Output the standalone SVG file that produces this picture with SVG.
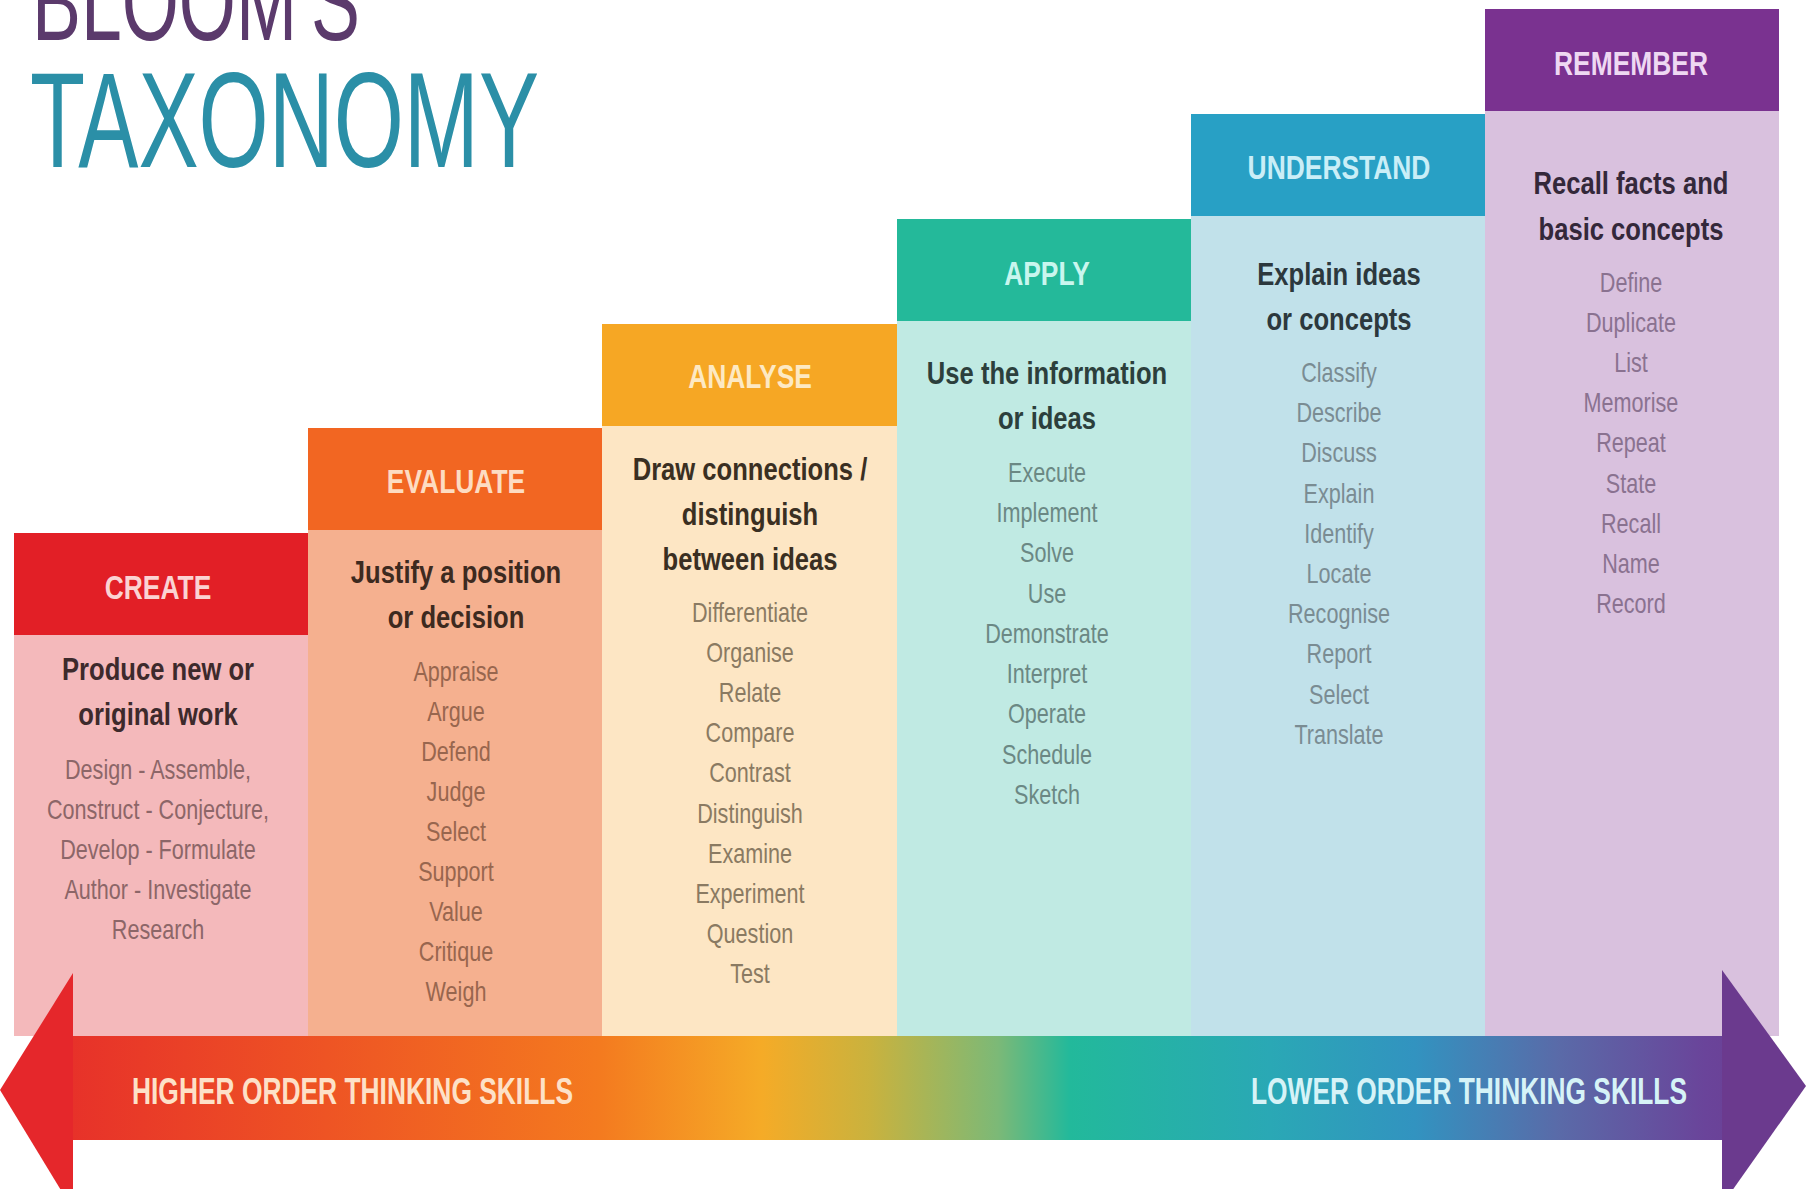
<svg xmlns="http://www.w3.org/2000/svg" width="1814" height="1189" viewBox="0 0 1814 1189">
<defs>
<linearGradient id="band" gradientUnits="userSpaceOnUse" x1="0" y1="0" x2="1814" y2="0">
<stop offset="0" stop-color="#e5282b"/>
<stop offset="0.18" stop-color="#ee5424"/>
<stop offset="0.33" stop-color="#f47a1f"/>
<stop offset="0.42" stop-color="#f5ab27"/>
<stop offset="0.48" stop-color="#c9b23e"/>
<stop offset="0.55" stop-color="#7cb977"/>
<stop offset="0.59" stop-color="#22b99b"/>
<stop offset="0.70" stop-color="#2aa8b5"/>
<stop offset="0.78" stop-color="#3293c0"/>
<stop offset="0.86" stop-color="#5a6aa8"/>
<stop offset="0.94" stop-color="#6a449a"/>
<stop offset="1" stop-color="#6b3a8e"/>
</linearGradient>
<style>
text{font-family:"Liberation Sans",Arial,sans-serif;text-anchor:middle}
.hd{font-size:33px;font-weight:bold}
.sub{font-size:32px;font-weight:bold}
.vb{font-size:27px}
.title{text-anchor:start;font-size:136px}
.band{font-size:36px;font-weight:bold;text-anchor:start}
</style>
</defs>
<rect width="1814" height="1189" fill="#ffffff"/>

<g id="title">
<text class="title" x="32" y="40" font-size="112" textLength="328" lengthAdjust="spacingAndGlyphs" fill="#5b3a6c" style="font-size:112px">BLOOM'S</text>
<text class="title" x="30" y="167" textLength="509" lengthAdjust="spacingAndGlyphs" fill="#2b8fa7">TAXONOMY</text>
</g>

<g id="create">
<rect x="14" y="635" width="294" height="401" fill="#f4b9bb"/>
<rect x="14" y="533" width="294" height="102" fill="#e21f26"/>
<g transform="translate(158 0) scale(0.8 1)">
<text class="hd" x="0" y="599" fill="#fbd3d3">CREATE</text>
<g class="sub" fill="#3d2a2c"><text x="0" y="680">Produce new or</text><text x="0" y="725">original work</text></g>
<g class="vb" fill="#8c6668">
<text x="0" y="779">Design - Assemble,</text><text x="0" y="819">Construct - Conjecture,</text><text x="0" y="859">Develop - Formulate</text><text x="0" y="899">Author - Investigate</text><text x="0" y="939">Research</text>
</g></g>
</g>

<g id="evaluate">
<rect x="308" y="530" width="294" height="506" fill="#f5b08f"/>
<rect x="308" y="428" width="294" height="102" fill="#f26622"/>
<g transform="translate(456 0) scale(0.8 1)">
<text class="hd" x="0" y="493" fill="#fddcc2">EVALUATE</text>
<g class="sub" fill="#3d2a1f"><text x="0" y="583">Justify a position</text><text x="0" y="628">or decision</text></g>
<g class="vb" fill="#98664e">
<text x="0" y="681">Appraise</text><text x="0" y="721">Argue</text><text x="0" y="761">Defend</text><text x="0" y="801">Judge</text><text x="0" y="841">Select</text><text x="0" y="881">Support</text><text x="0" y="921">Value</text><text x="0" y="961">Critique</text><text x="0" y="1001">Weigh</text>
</g></g>
</g>

<g id="analyse">
<rect x="602" y="426" width="295" height="610" fill="#fde6c4"/>
<rect x="602" y="324" width="295" height="102" fill="#f6a724"/>
<g transform="translate(750 0) scale(0.8 1)">
<text class="hd" x="0" y="388" fill="#fde9c3">ANALYSE</text>
<g class="sub" fill="#3a2f22"><text x="0" y="480">Draw connections /</text><text x="0" y="525">distinguish</text><text x="0" y="570">between ideas</text></g>
<g class="vb" fill="#8a7a62">
<text x="0" y="622">Differentiate</text><text x="0" y="662">Organise</text><text x="0" y="702">Relate</text><text x="0" y="742">Compare</text><text x="0" y="782">Contrast</text><text x="0" y="823">Distinguish</text><text x="0" y="863">Examine</text><text x="0" y="903">Experiment</text><text x="0" y="943">Question</text><text x="0" y="983">Test</text>
</g></g>
</g>

<g id="apply">
<rect x="897" y="321" width="294" height="715" fill="#c0eae3"/>
<rect x="897" y="219" width="294" height="102" fill="#24b99a"/>
<g transform="translate(1047 0) scale(0.8 1)">
<text class="hd" x="0" y="285" fill="#c9f6ee">APPLY</text>
<g class="sub" fill="#2c3f3c"><text x="0" y="384">Use the information</text><text x="0" y="429">or ideas</text></g>
<g class="vb" fill="#6b8884">
<text x="0" y="482">Execute</text><text x="0" y="522">Implement</text><text x="0" y="562">Solve</text><text x="0" y="603">Use</text><text x="0" y="643">Demonstrate</text><text x="0" y="683">Interpret</text><text x="0" y="723">Operate</text><text x="0" y="764">Schedule</text><text x="0" y="804">Sketch</text>
</g></g>
</g>

<g id="understand">
<rect x="1191" y="216" width="294" height="820" fill="#c1e1ea"/>
<rect x="1191" y="114" width="294" height="102" fill="#28a0c5"/>
<g transform="translate(1339 0) scale(0.8 1)">
<text class="hd" x="0" y="179" fill="#caeef7">UNDERSTAND</text>
<g class="sub" fill="#2c383d"><text x="0" y="285">Explain ideas</text><text x="0" y="330">or concepts</text></g>
<g class="vb" fill="#7a8c93">
<text x="0" y="382">Classify</text><text x="0" y="422">Describe</text><text x="0" y="462">Discuss</text><text x="0" y="503">Explain</text><text x="0" y="543">Identify</text><text x="0" y="583">Locate</text><text x="0" y="623">Recognise</text><text x="0" y="663">Report</text><text x="0" y="704">Select</text><text x="0" y="744">Translate</text>
</g></g>
</g>

<g id="remember">
<rect x="1485" y="111" width="294" height="925" fill="#d9c1de"/>
<rect x="1485" y="9" width="294" height="102" fill="#7a3290"/>
<g transform="translate(1631 0) scale(0.8 1)">
<text class="hd" x="0" y="75" fill="#eed8f2">REMEMBER</text>
<g class="sub" fill="#34283a"><text x="0" y="194">Recall facts and</text><text x="0" y="240">basic concepts</text></g>
<g class="vb" fill="#8a7290">
<text x="0" y="292">Define</text><text x="0" y="332">Duplicate</text><text x="0" y="372">List</text><text x="0" y="412">Memorise</text><text x="0" y="452">Repeat</text><text x="0" y="493">State</text><text x="0" y="533">Recall</text><text x="0" y="573">Name</text><text x="0" y="613">Record</text>
</g></g>
</g>

<g id="connectors">
<rect x="72" y="1036" width="1651" height="104" fill="url(#band)"/>
<polygon points="0,1090 73,973 73,1210" fill="#e5272b"/>
<polygon points="1806,1086 1722,970 1722,1205" fill="#6b3a8e"/>
<text class="band" x="132" y="1104" textLength="441" lengthAdjust="spacingAndGlyphs" fill="#fde1c8">HIGHER ORDER THINKING SKILLS</text>
<text class="band" x="1251" y="1104" textLength="436" lengthAdjust="spacingAndGlyphs" fill="#d6f3f7">LOWER ORDER THINKING SKILLS</text>
</g>
</svg>
